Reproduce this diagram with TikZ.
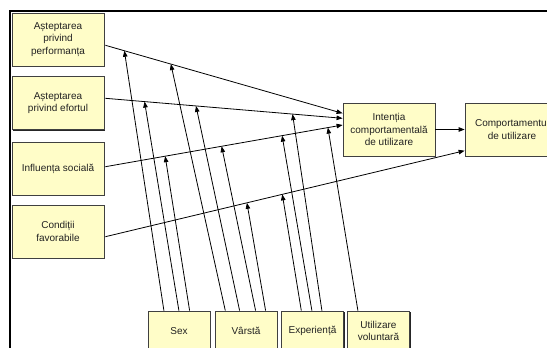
\documentclass[tikz,border=0pt]{standalone}
\usepackage{fontspec}
\setmainfont{Liberation Sans}
\usetikzlibrary{calc,arrows.meta,shadows}
\definecolor{boxfill}{HTML}{FFFDC8}
\definecolor{txt}{HTML}{222222}
\tikzset{
  box/.style={draw=black!75, line width=0.8pt, fill=boxfill, text=txt,
    align=center, font=\fontsize{10}{12.5}\selectfont, inner sep=1pt,
    drop shadow={shadow xshift=1.3pt, shadow yshift=-1.3pt, fill=black!85, opacity=1}},
  sidebox/.style={box, minimum width=92pt, minimum height=53pt},
  botbox/.style={box, minimum width=62pt, minimum height=40pt},
  link/.style={draw=black, line width=0.8pt, -{Triangle[length=6pt,width=4.5pt]}},
}
\begin{document}
\begin{tikzpicture}[x=1pt,y=-1pt]
\useasboundingbox (0,0) rectangle (547,348);
\clip (0,0) rectangle (547,348);
% frame
\draw[line width=2pt] (10,360) -- (10,10.5) -- (560,10.5);
% left boxes
\node[sidebox] (pe) at (58,39.5) {Așteptarea\\privind\\performanța};
\node[sidebox] (ee) at (58,103) {Așteptarea\\privind efortul};
\node[sidebox] (si) at (58,168.5) {Influența socială};
\node[sidebox] (fc) at (58,231.5) {Condiții\\favorabile};
% right boxes
\node[sidebox] (bi) at (389,129.5) {Intenția\\comportamentală\\de utilizare};
\node[sidebox, minimum width=94pt] (ub) at (512,129.5) {Comportamentul\\de utilizare};
% bottom boxes
\node[botbox] (sex) at (179,331) {Sex};
\node[botbox] (age) at (246,331) {Vârstă};
\node[botbox] (exp) at (312.5,331) {Experiență};
\node[botbox] (vol) at (378.5,331) {Utilizare\\voluntară};
% main line end points
\coordinate (pe0) at ($(pe.east)+(1,5.8)$);
\coordinate (pe1) at ($(bi.west)+(0,-16.2)$);
\coordinate (ee0) at ($(ee.east)+(1,-4.7)$);
\coordinate (ee1) at ($(bi.west)+(0,-11.2)$);
\coordinate (si0) at ($(si.east)+(1,-1.8)$);
\coordinate (si1) at ($(bi.west)+(0,-4.5)$);
\coordinate (fc0) at ($(fc.east)+(1,5.2)$);
\coordinate (fc1) at ($(ub.west)+(0,21.2)$);
% main connectors
\draw[link] (pe0) -- (pe1);
\draw[link] (ee0) -- (ee1);
\draw[link] (si0) -- (si1);
\draw[link] (fc0) -- (fc1);
\draw[link] (bi.east) -- (ub.west);
% targets on the lines
\coordinate (pe-g) at ($(pe0)!0.080!(pe1)$);
\coordinate (pe-a) at ($(pe0)!0.276!(pe1)$);
\coordinate (ee-g) at ($(ee0)!0.165!(ee1)$);
\coordinate (ee-a) at ($(ee0)!0.382!(ee1)$);
\coordinate (ee-e) at ($(ee0)!0.789!(ee1)$);
\coordinate (si-g) at ($(si0)!0.252!(si1)$);
\coordinate (si-a) at ($(si0)!0.490!(si1)$);
\coordinate (si-e) at ($(si0)!0.745!(si1)$);
\coordinate (si-v) at ($(si0)!0.938!(si1)$);
\coordinate (fc-a) at ($(fc0)!0.394!(fc1)$);
\coordinate (fc-e) at ($(fc0)!0.4925!(fc1)$);
% start points on bottom boxes
\coordinate (g1) at ($(sex.north west)+(16.3,0)$);
\coordinate (g2) at ($(sex.north west)+(31.3,0)$);
\coordinate (g3) at ($(sex.north west)+(42,0)$);
\coordinate (a1) at ($(age.north west)+(10.7,0)$);
\coordinate (a2) at ($(age.north west)+(25,0)$);
\coordinate (a3) at ($(age.north west)+(41,0)$);
\coordinate (a4) at ($(age.north west)+(51,0)$);
\coordinate (e1) at ($(exp.north west)+(20.2,0)$);
\coordinate (e2) at ($(exp.north west)+(30.8,0)$);
\coordinate (e3) at ($(exp.north west)+(40.8,0)$);
\coordinate (v1) at ($(vol.north west)+(10.8,0)$);
% moderator connectors
\draw[link] (g1) -- (pe-g);
\draw[link] (g2) -- (ee-g);
\draw[link] (g3) -- (si-g);
\draw[link] (a1) -- (pe-a);
\draw[link] (a2) -- (ee-a);
\draw[link] (a3) -- (si-a);
\draw[link] (a4) -- (fc-a);
\draw[link] (e1) -- (fc-e);
\draw[link] (e2) -- (si-e);
\draw[link] (e3) -- (ee-e);
\draw[link] (v1) -- (si-v);
\end{tikzpicture}
\end{document}
